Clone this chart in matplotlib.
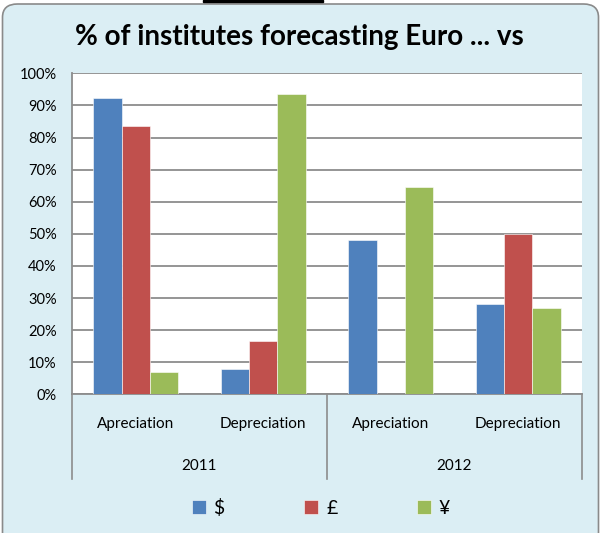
import numpy as np
import matplotlib.pyplot as plt
from matplotlib.patches import FancyBboxPatch, Rectangle
from matplotlib.transforms import blended_transform_factory

plt.rcParams['font.family'] = ['Lato', 'DejaVu Sans']

# data
years = ['2011', '2012']
categories = ['Apreciation', 'Depreciation', 'Apreciation', 'Depreciation']
series = ['$', '£', '¥']
dollar = [0.924, 0.078, 0.48, 0.28]
pound = [0.835, 0.166, 0.0, 0.50]
yen = [0.069, 0.936, 0.645, 0.268]
colors = ['#4F81BD', '#C0504D', '#9BBB59']

W, H = 600, 533
fig = plt.figure(figsize=(W / 100, H / 100), dpi=100)
fig.patch.set_facecolor('white')

# rounded chart frame
frame = FancyBboxPatch((2.5 / W, -20 / H), 596 / W, (H - 4 + 20) / H,
                       boxstyle='round,pad=0,rounding_size=0.025',
                       transform=fig.transFigure, facecolor='#DBEEF4',
                       edgecolor='#8A8A8A', linewidth=1.2, zorder=0)
fig.add_artist(frame)
fig.add_artist(Rectangle((203 / W, (H - 2) / H), 120 / W, 2 / H,
                         transform=fig.transFigure, color='black'))

ax = fig.add_axes([72 / W, (H - 394.3) / H, 510 / W, 321 / H])
ax.set_facecolor('white')

x = np.arange(len(categories)) + 0.5
bw = 0.222
for i, (vals, c) in enumerate(zip([dollar, pound, yen], colors)):
    ax.bar(x + (i - 1) * bw, vals, bw, color=c, edgecolor='white',
           linewidth=0.4, zorder=3, label=series[i])

ax.set_xlim(0, 4)
ax.set_ylim(0, 1)
ax.set_yticks(np.arange(0, 1.01, 0.1))
ax.set_yticklabels([f'{int(round(v * 100))}%' for v in np.arange(0, 1.01, 0.1)])
ax.tick_params(axis='y', length=0, pad=11, labelsize=10.5)
ax.set_xticks([])
ax.yaxis.grid(True, color='#8C8C8C', linewidth=1.3)
ax.set_axisbelow(True)
for s in ['top', 'right']:
    ax.spines[s].set_visible(False)
for s in ['left', 'bottom']:
    ax.spines[s].set_color('#8C8C8C')
    ax.spines[s].set_linewidth(1.3)

tr = blended_transform_factory(ax.transData, ax.transAxes)
for xs in [0, 2, 4]:
    ax.plot([xs, xs], [0, -0.264], color='#8C8C8C', linewidth=1.2,
            transform=tr, clip_on=False)
for xc, lab in zip(x, categories):
    ax.text(xc, -0.092, lab, transform=tr, ha='center', va='center', fontsize=11)
for j, yr in enumerate(years):
    ax.text(2 * j + 1, -0.222, yr, transform=tr, ha='center', va='center', fontsize=11)

fig.text(0.499, (H - 37) / H, '% of institutes forecasting Euro ... vs',
         ha='center', va='center', fontsize=20, fontweight='bold')

handles, labels = ax.get_legend_handles_labels()
leg = fig.legend(handles, labels, loc='center', bbox_to_anchor=(0.535, (H - 507.6) / H),
                 ncol=3, frameon=False, fontsize=14, handlelength=0.72,
                 handleheight=0.72, handletextpad=0.4, columnspacing=4.1)

fig.savefig('out.png', dpi=100, facecolor='white')
